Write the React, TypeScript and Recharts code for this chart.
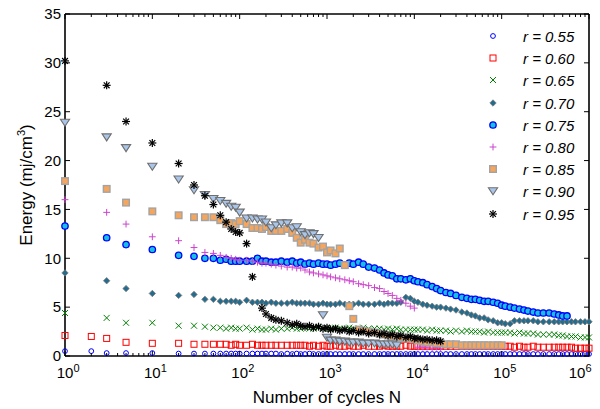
import React from 'react';
import { ScatterChart, Scatter, XAxis, YAxis, Legend, Label } from 'recharts';

const _ = null;

// Number of cycles N (shared sampling grid, rows per decade band)
const cycles: number[] = [
  1, 2, 3, 5, 10, 20, 30, 40, 50, 60, 70, 80, 90, 100,
  120, 140, 160, 180, 200, 230, 260, 300, 350, 400, 450, 500, 560, 630, 700, 800, 900, 1000,
  1100, 1250, 1400, 1600, 1800, 2000, 2300, 2600, 3000, 3500, 4000, 4500, 5000, 5600, 6300, 7000, 8000, 9000, 10000,
  11000, 12500, 14000, 16000, 18000, 20000, 23000, 26000, 30000, 35000, 40000, 45000, 50000, 56000, 63000, 70000, 80000, 90000, 100000,
  110000, 125000, 140000, 160000, 180000, 200000, 230000, 260000, 300000, 350000, 400000, 450000, 500000, 560000, 630000, 700000, 800000, 900000, 1000000,
];

// Energy (mj/cm3) per series
const r055 = [
  0.5, 0.5, 0.3, 0.3, 0.3, 0.25, 0.25, 0.25, 0.25, 0.25, 0.25, 0.25, 0.25, 0.25,
  0.25, 0.25, 0.25, 0.25, 0.25, 0.25, 0.25, 0.2, 0.25, 0.2, 0.25, 0.2, 0.2, 0.25, 0.2, 0.2, 0.2, 0.2,
  0.2, 0.2, 0.2, 0.2, 0.2, 0.2, 0.2, 0.2, 0.2, 0.2, 0.2, 0.2, 0.2, 0.2, 0.2, 0.2, 0.2, 0.2, 0.2,
  0.2, 0.2, 0.2, 0.2, 0.2, 0.2, 0.2, 0.2, 0.2, 0.2, 0.2, 0.2, 0.2, 0.2, 0.2, 0.2, 0.2, 0.2, 0.2,
  0.2, 0.2, 0.2, 0.2, 0.2, 0.2, 0.2, 0.2, 0.2, 0.2, 0.2, 0.2, 0.2, 0.2, 0.2, 0.2, 0.2, 0.2, 0.2,
];
const r060 = [
  2.1, 2.0, 1.8, 1.4, 1.3, 1.3, 1.2, 1.2, 1.2, 1.2, 1.2, 1.1, 1.2, 1.1,
  1.1, 1.2, 1.1, 1.1, 1.1, 1.1, 1.1, 1.1, 1.1, 1.1, 1.1, 1.1, 1.1, 1.0, 1.1, 1.0, 1.1, 1.0,
  1.0, 1.1, 1.0, 1.0, 1.1, 1.0, 1.0, 1.1, 1.0, 1.0, 1.0, 1.1, 1.0, 1.0, 1.0, 1.0, 1.1, 1.0, 1.0,
  1.0, 1.0, 1.0, 1.0, 1.0, 1.0, 1.0, 1.0, 1.0, 1.0, 1.0, 1.0, 1.0, 1.0, 1.0, 1.0, 1.0, 1.0, 1.0,
  1.0, 1.0, 0.9, 1.0, 0.9, 0.9, 1.0, 0.9, 0.9, 0.9, 0.9, 0.9, 0.9, 0.9, 0.9, 0.8, 0.8, 0.8, 0.8,
];
const r065 = [
  4.4, _, 3.9, 3.4, 3.4, 3.1, 3.1, 3.0, 2.9, 2.9, 2.8, 2.9, 2.8, 2.8,
  2.9, 2.7, 2.8, 2.7, 2.7, 2.8, 2.7, 2.8, 2.8, 2.9, 2.8, 2.8, 2.9, 2.8, 2.8, 2.9, 2.8, 2.8,
  2.8, 2.9, 2.8, 2.8, 2.9, 2.8, 2.8, 2.9, 2.8, 2.8, 2.8, 2.7, 2.8, 2.7, 2.8, 2.7, 2.7, 2.7, 2.7,
  2.7, 2.7, 2.6, 2.7, 2.6, 2.6, 2.6, 2.5, 2.6, 2.5, 2.6, 2.5, 2.5, 2.5, 2.4, 2.5, 2.4, 2.4, 2.4,
  2.4, 2.4, 2.3, 2.4, 2.3, 2.3, 2.3, 2.2, 2.2, 2.2, 2.2, 2.1, 2.1, 2.0, 2.0, 2.0, 1.9, 1.9, 1.9,
];
const r070 = [
  8.5, _, 7.7, 6.9, 6.4, 6.2, 6.3, 5.8, 5.8, 5.6, 5.6, 5.6, 5.6, 5.5,
  5.7, 5.5, 5.5, 5.5, 5.4, 5.5, 5.4, 5.4, 5.4, 5.5, 5.4, 5.4, 5.4, 5.4, 5.3, 5.3, 5.4, 5.3,
  5.3, 5.3, 5.4, 5.3, 5.3, 5.3, 5.4, 5.3, 5.3, 5.3, 5.4, 5.3, 5.4, 5.4, 5.4, 5.5, 6.0, 5.9, 5.6,
  5.5, 5.3, 5.2, 5.1, 5.0, 5.0, 4.9, 4.8, 4.7, 4.5, 4.4, 4.2, 4.1, 3.9, 3.9, 3.7, 3.6, 3.4, 3.4,
  3.3, 3.3, 3.6, 3.6, 3.6, 3.6, 3.6, 3.5, 3.5, 3.5, 3.5, 3.5, 3.5, 3.5, 3.5, 3.5, 3.5, 3.5, 3.5,
];
const r075 = [
  13.3, _, 12.1, 11.4, 10.9, 10.3, 10.2, 10.0, 10.0, 9.8, 9.9, 9.7, 9.7, 9.7,
  9.7, 9.7, 10.0, 9.7, 9.7, 9.6, 9.6, 9.7, 9.6, 9.7, 9.5, 9.6, 9.4, 9.5, 9.4, 9.5, 9.4, 9.4,
  9.3, 9.4, 9.5, 9.3, 9.5, 9.4, 9.6, 9.4, 9.1, 9.0, 8.8, 8.5, 8.3, 8.2, 7.9, 7.9, 7.8, 7.9, 7.7,
  7.6, 7.5, 7.3, 7.1, 6.9, 6.7, 6.5, 6.4, 6.2, 6.0, 5.9, 5.8, 5.8, 5.7, 5.6, 5.6, 5.5, 5.4, 5.2,
  5.1, 5.0, 4.9, 4.8, 4.7, 4.6, 4.5, 4.4, 4.4, 4.4, 4.3, 4.2, 4.1, 4.1, _, _, _, _, _,
];
const r080 = [
  16.0, _, 14.7, 13.5, 12.2, 11.8, 11.1, 10.6, 10.5, 10.3, 10.1, 10.0, 9.9, 9.8,
  9.8, 9.7, 9.6, 9.5, 9.5, 9.4, 9.3, 9.2, 9.1, 9.1, 9.0, 9.0, 8.8, 8.6, 8.5, 8.4, 8.3, 8.2,
  8.1, 8.0, 7.9, 7.8, 7.7, 7.6, 7.4, 7.3, 7.2, 7.0, 6.9, 6.6, 6.4, 6.2, 5.9, 5.7, 5.4, 5.1, 4.9,
  0.9, 0.9, 0.9, 0.8, 0.9, 0.8, _, _, _, _, _, _, _, _, _, _, _, _, _,
  _, _, _, _, _, _, _, _, _, _, _, _, _, _, _, _, _, _, _,
];
const r085 = [
  17.9, _, 17.1, 15.7, 14.8, 14.4, 14.2, 14.2, 14.2, 13.9, 13.5, 13.6, 13.5, 13.8,
  13.5, 13.1, 13.1, 13.0, 13.2, 12.8, 12.8, 12.8, 13.0, 12.6, 12.1, 11.6, 11.9, 11.6, 11.5, 11.1, 11.2, 10.6,
  10.8, 10.5, 11.0, 9.3, 5.1, 3.8, 2.7, 2.6, 2.5, 2.4, 2.3, 2.2, 2.1, 2.0, 2.0, 1.9, 1.8, 1.8, 1.7,
  1.6, 1.5, 1.4, 1.4, 1.3, 1.3, 1.2, 1.2, 1.2, 1.1, 1.1, 1.1, 1.1, 1.1, 1.1, 1.1, 1.1, 1.1, 1.1,
  _, _, _, _, _, _, _, _, _, _, _, _, _, _, _, _, _, _, _,
];
const r090 = [
  23.9, _, 22.4, 21.3, 19.4, 18.1, 17.0, 16.5, 16.1, 15.9, 15.6, 15.3, 15.2, 14.7,
  14.1, 14.1, 14.0, 14.0, 13.7, 13.1, 13.4, 13.6, 13.6, 13.1, 13.2, 12.7, 12.4, 12.6, 12.5, 12.1, 4.2, 1.9,
  1.6, 1.6, 1.5, 1.5, 1.4, 1.4, 1.4, 1.3, 1.3, 1.3, 1.2, 1.2, 1.2, 1.2, 1.1, _, _, _, _,
  _, _, _, _, _, _, _, _, _, _, _, _, _, _, _, _, _, _, _,
  _, _, _, _, _, _, _, _, _, _, _, _, _, _, _, _, _, _, _,
];
const r095 = [
  30.2, _, 27.7, 24.0, 21.8, 19.7, 17.5, 16.4, 15.5, 14.4, 13.7, 13.0, 12.7, 12.6,
  11.5, 8.1, _, 4.9, 4.3, 3.9, 3.7, 3.6, 3.4, 3.2, 3.3, 3.1, 3.0, 3.1, 2.9, 3.0, 2.8, 2.9,
  2.7, 2.8, 2.6, 2.7, 2.5, 2.6, 2.4, 2.5, 2.3, 2.4, 2.2, 2.3, 2.1, 2.2, 2.0, 2.1, 1.9, 2.0, 1.8,
  1.8, 1.7, 1.7, 1.6, 1.6, 1.5, _, _, _, _, _, _, _, _, _, _, _, _, _,
  _, _, _, _, _, _, _, _, _, _, _, _, _, _, _, _, _, _, _,
];

const seriesLabels = ['0.55', '0.60', '0.65', '0.70', '0.75', '0.80', '0.85', '0.90', '0.95'];
const seriesValues = [r055, r060, r065, r070, r075, r080, r085, r090, r095];
const seriesKinds = ['o', 's', 'x', 'd', 'O', '+', 'S', 'v', '*'];

const xTicks = [
  1, 2, 3, 4, 5, 6, 7, 8, 9,
  10, 20, 30, 40, 50, 60, 70, 80, 90,
  100, 200, 300, 400, 500, 600, 700, 800, 900,
  1000, 2000, 3000, 4000, 5000, 6000, 7000, 8000, 9000,
  10000, 20000, 30000, 40000, 50000, 60000, 70000, 80000, 90000,
  100000, 200000, 300000, 400000, 500000, 600000, 700000, 800000, 900000,
  1000000,
];
const yTicks = [0, 5, 10, 15, 20, 25, 30, 35];

const FONT = '"Liberation Sans", Arial, Helvetica, sans-serif';

const build = (vals: (number | null)[]) =>
  cycles
    .map((n, i) => ({ n, e: vals[i] }))
    .filter((d) => d.e !== null && d.e !== undefined);

function Marker({ kind, cx, cy }: { kind: string; cx: number; cy: number }) {
  if (cx == null || cy == null || Number.isNaN(cx) || Number.isNaN(cy)) return null;
  switch (kind) {
    case 'o':
      return <circle cx={cx} cy={cy} r={2.4} fill="none" stroke="#0000ff" strokeWidth={1} />;
    case 's':
      return <rect x={cx - 3} y={cy - 3} width={6} height={6} fill="none" stroke="#ff0000" strokeWidth={1} />;
    case 'x': {
      const a = 3;
      return (
        <g stroke="#008000" strokeWidth={1}>
          <line x1={cx - a} y1={cy - a} x2={cx + a} y2={cy + a} />
          <line x1={cx - a} y1={cy + a} x2={cx + a} y2={cy - a} />
        </g>
      );
    }
    case 'd': {
      const b = 3.2;
      return (
        <polygon
          points={`${cx},${cy - b} ${cx + b},${cy} ${cx},${cy + b} ${cx - b},${cy}`}
          fill="#246c8e"
          stroke="#7a7a7a"
          strokeWidth={0.8}
        />
      );
    }
    case 'O':
      return <circle cx={cx} cy={cy} r={3.2} fill="#18c0e0" stroke="#0000ff" strokeWidth={1.3} />;
    case '+': {
      const c = 3.4;
      return (
        <g stroke="#cc44cc" strokeWidth={1}>
          <line x1={cx - c} y1={cy} x2={cx + c} y2={cy} />
          <line x1={cx} y1={cy - c} x2={cx} y2={cy + c} />
        </g>
      );
    }
    case 'S':
      return <rect x={cx - 3.3} y={cy - 3.3} width={6.6} height={6.6} fill="#f5a55c" stroke="#a3a3a3" strokeWidth={1.4} />;
    case 'v':
      return (
        <polygon
          points={`${cx - 4.6},${cy - 3.2} ${cx + 4.6},${cy - 3.2} ${cx},${cy + 3.8}`}
          fill="#a9c6ea"
          stroke="#6f6f6f"
          strokeWidth={1.1}
        />
      );
    case '*': {
      const d = 4;
      const e = 2.9;
      return (
        <g stroke="#000" strokeWidth={1.2}>
          <line x1={cx - d} y1={cy} x2={cx + d} y2={cy} />
          <line x1={cx} y1={cy - d} x2={cx} y2={cy + d} />
          <line x1={cx - e} y1={cy - e} x2={cx + e} y2={cy + e} />
          <line x1={cx - e} y1={cy + e} x2={cx + e} y2={cy - e} />
        </g>
      );
    }
    default:
      return null;
  }
}

const isMajor = (v: number) => Math.abs(Math.log10(v) - Math.round(Math.log10(v))) < 1e-9;

const BottomTick = (props: any) => {
  const { x, y, payload } = props;
  const v = payload.value;
  const major = isMajor(v);
  const exp = Math.round(Math.log10(v));
  // the last label is pulled inside the frame, as in the reference
  const lx = exp === 6 ? x - 12 : x;
  return (
    <g>
      <line x1={x} x2={x} y1={y} y2={y - (major ? 5 : 3)} stroke="#000" strokeWidth={1} />
      {major && (
        <text x={lx} y={y + 22} fontSize={15} textAnchor="middle" fontFamily={FONT} fill="#000">
          10
        </text>
      )}
      {major && (
        <text x={lx + 8.5} y={y + 16} fontSize={11} textAnchor="start" fontFamily={FONT} fill="#000">
          {exp}
        </text>
      )}
    </g>
  );
};

const TopTick = (props: any) => {
  const { x, y, payload } = props;
  const major = isMajor(payload.value);
  return <line x1={x} x2={x} y1={y} y2={y + (major ? 5 : 3)} stroke="#000" strokeWidth={1} />;
};

const LeftTick = (props: any) => {
  const { x, y, payload } = props;
  return (
    <g>
      <line x1={x} x2={x + 5} y1={y} y2={y} stroke="#000" strokeWidth={1} />
      <text x={x - 4} y={y + 5.3} fontSize={15} textAnchor="end" fontFamily={FONT} fill="#000">
        {payload.value}
      </text>
    </g>
  );
};

const RightTick = (props: any) => {
  const { x, y } = props;
  return <line x1={x} x2={x - 5} y1={y} y2={y} stroke="#000" strokeWidth={1} />;
};

const YTitle = (props: any) => {
  const vb = props.viewBox || { x: 0, y: 14, width: 65, height: 342 };
  const cx = vb.x + 32;
  const cy = vb.y + vb.height / 2;
  return (
    <text
      x={cx}
      y={cy}
      transform={`rotate(-90 ${cx} ${cy})`}
      textAnchor="middle"
      fontSize={17}
      fontFamily={FONT}
      fill="#000"
    >
      Energy (mj/cm<tspan dy={-7} fontSize={11}>3</tspan>
      <tspan dy={7}>)</tspan>
    </text>
  );
};

const XTitle = (props: any) => {
  const vb = props.viewBox || { x: 65, y: 356, width: 524, height: 53 };
  return (
    <text x={vb.x + vb.width / 2} y={vb.y + 47} textAnchor="middle" fontSize={17} fontFamily={FONT} fill="#000">
      Number of cycles N
    </text>
  );
};

const LegendBox = () => (
  <div style={{ fontFamily: FONT, fontStyle: 'italic', fontSize: 15, color: '#000' }}>
    {seriesLabels.map((lab, i) => (
      <div key={lab} style={{ height: 22.2, display: 'flex', alignItems: 'center' }}>
        <svg width={26} height={22} style={{ display: 'block', overflow: 'visible' }}>
          <Marker kind={seriesKinds[i]} cx={13} cy={10} />
        </svg>
        <span style={{ marginLeft: 17, lineHeight: '22px', whiteSpace: 'nowrap' }}>r = {lab}</span>
      </div>
    ))}
  </div>
);

export default function App() {
  return (
    <div style={{ width: 600, height: 409, background: '#fff' }}>
      <style>{`body{margin:0;background:#fff}`}</style>
      <ScatterChart width={600} height={409} margin={{ top: 0, right: 0, bottom: 0, left: 0 }}>
        <XAxis
          xAxisId="b"
          dataKey="n"
          type="number"
          scale="log"
          domain={[1, 1000000]}
          ticks={xTicks}
          interval={0}
          height={53}
          tickSize={0}
          tickMargin={0}
          tick={<BottomTick />}
          tickLine={false}
          axisLine={{ stroke: '#000', strokeWidth: 1.6 }}
        >
          <Label content={<XTitle />} />
        </XAxis>
        <XAxis
          xAxisId="t"
          orientation="top"
          dataKey="n"
          type="number"
          scale="log"
          domain={[1, 1000000]}
          allowDataOverflow
          ticks={xTicks}
          interval={0}
          height={14}
          tickSize={0}
          tickMargin={0}
          tick={<TopTick />}
          tickLine={false}
          axisLine={{ stroke: '#000', strokeWidth: 1.6 }}
        />
        <YAxis
          yAxisId="l"
          dataKey="e"
          type="number"
          domain={[0, 35]}
          ticks={yTicks}
          interval={0}
          width={65}
          tickSize={0}
          tickMargin={0}
          tick={<LeftTick />}
          tickLine={false}
          axisLine={{ stroke: '#000', strokeWidth: 1.6 }}
        >
          <Label content={<YTitle />} />
        </YAxis>
        <YAxis
          yAxisId="r"
          orientation="right"
          dataKey="e"
          type="number"
          domain={[0, 35]}
          allowDataOverflow
          ticks={yTicks}
          interval={0}
          width={11}
          tickSize={0}
          tickMargin={0}
          tick={<RightTick />}
          tickLine={false}
          axisLine={{ stroke: '#000', strokeWidth: 1.6 }}
        />
        <Legend
          layout="vertical"
          align="center"
          verticalAlign="middle"
          wrapperStyle={{ position: 'absolute', left: 480, top: 26, width: 115, height: 200 }}
          content={<LegendBox />}
        />
        {seriesValues.map((vals, i) => (
          <Scatter
            key={seriesLabels[i]}
            name={`r = ${seriesLabels[i]}`}
            data={build(vals)}
            dataKey="e"
            xAxisId="b"
            yAxisId="l"
            isAnimationActive={false}
            shape={(p: any) => <Marker kind={seriesKinds[i]} cx={p.cx} cy={p.cy} />}
          />
        ))}
      </ScatterChart>
    </div>
  );
}
